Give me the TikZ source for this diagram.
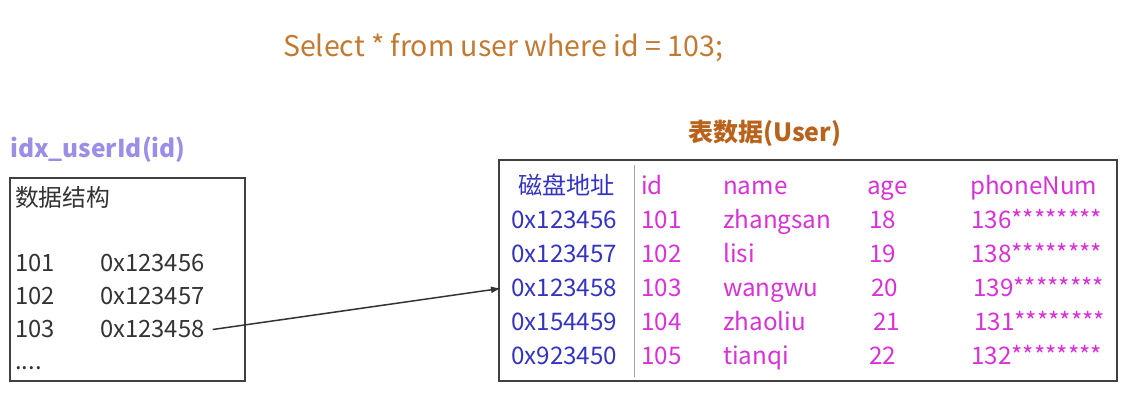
\documentclass[tikz,border=0pt]{standalone}
\usepackage{fontspec}
\setmainfont{Noto Sans CJK SC}
\usetikzlibrary{arrows.meta}
\definecolor{sqlbrown}{HTML}{C27A32}
\definecolor{titlebrown}{HTML}{B8621C}
\definecolor{idxpurple}{HTML}{9A8EE6}
\definecolor{addrblue}{HTML}{3434C0}
\definecolor{cellpink}{HTML}{D632D6}
\definecolor{boxtext}{HTML}{333333}
\begin{document}
\begin{tikzpicture}[x=1pt,y=1pt,
  idxtext/.style={anchor=base west,inner sep=0pt,text=boxtext,font=\fontsize{23.8}{26}\selectfont},
  addrtext/.style={anchor=base west,inner sep=0pt,text=addrblue,font=\fontsize{24.2}{26}\selectfont},
  celltext/.style={anchor=base west,inner sep=0pt,text=cellpink,font=\fontsize{24.2}{26}\selectfont}]
\useasboundingbox [fill=white] (0,0) rectangle (1135,-400);
% query
\node [anchor=base west,inner sep=0pt,text=sqlbrown,font=\fontsize{28.5}{30}\selectfont] (query) at (283,-56) {Select * from user where id = 103;};
% index box
\node [anchor=base west,inner sep=0pt,text=idxpurple,font=\bfseries\fontsize{24.5}{26}\selectfont] (idxtitle) at (10,-157) {idx\_userId(id)};
\draw [line width=1.4pt,color=black!75] (10,-178) rectangle (245,-381);
\node [idxtext] (idxhead) at (15,-206) {数据结构};
\node [idxtext] (idx101) at (15,-271) {101};
\node [idxtext] (idx101addr) at (100,-271) {0x123456};
\node [idxtext] (idx102) at (15,-304) {102};
\node [idxtext] (idx102addr) at (100,-304) {0x123457};
\node [idxtext] (idx103) at (15,-337) {103};
\node [idxtext] (idx103addr) at (100,-337) {0x123458};
\node [idxtext] (idxmore) at (15,-369) {....};
% table box
\node [anchor=base west,inner sep=0pt,text=titlebrown,font=\bfseries\fontsize{25}{27}\selectfont] (tabtitle) at (688,-141) {表数据(User)};
\draw [line width=1.4pt,color=black!75] (499,-160) rectangle (1117,-381);
\draw [line width=1pt,color=black!35] (634,-165) -- (634,-377);
\node [addrtext] (addrhead) at (518,-194) {磁盘地址};
\node [addrtext] (addr101) at (511,-228) {0x123456};
\node [addrtext] (addr102) at (511,-262) {0x123457};
\node [addrtext] (addr103) at (511,-296) {0x123458};
\node [addrtext] (addr104) at (511,-330) {0x154459};
\node [addrtext] (addr105) at (511,-364) {0x923450};
\node [celltext] (idhead) at (641,-194) {id};
\node [celltext] (namehead) at (723,-194) {name};
\node [celltext] (agehead) at (867,-194) {age};
\node [celltext] (phonehead) at (970,-194) {phoneNum};
\node [celltext] (id101) at (641,-228) {101};
\node [celltext] (name101) at (723,-228) {zhangsan};
\node [celltext] (age101) at (869,-228) {18};
\node [celltext] (phone101) at (971,-228) {136********};
\node [celltext] (id102) at (641,-262) {102};
\node [celltext] (name102) at (723,-262) {lisi};
\node [celltext] (age102) at (869,-262) {19};
\node [celltext] (phone102) at (971,-262) {138********};
\node [celltext] (id103) at (641,-296) {103};
\node [celltext] (name103) at (723,-296) {wangwu};
\node [celltext] (age103) at (871,-296) {20};
\node [celltext] (phone103) at (973,-296) {139********};
\node [celltext] (id104) at (641,-330) {104};
\node [celltext] (name104) at (723,-330) {zhaoliu};
\node [celltext] (age104) at (873,-330) {21};
\node [celltext] (phone104) at (974,-330) {131********};
\node [celltext] (id105) at (641,-364) {105};
\node [celltext] (name105) at (723,-364) {tianqi};
\node [celltext] (age105) at (869,-364) {22};
\node [celltext] (phone105) at (971,-364) {132********};
% lookup
\draw [-{Latex[length=10pt,width=7pt]},line width=1.5pt,color=black!80] ([xshift=8pt,yshift=-1pt]idx103addr.east) -- ([xshift=-10pt,yshift=-1pt]addr103.west);
\end{tikzpicture}
\end{document}
